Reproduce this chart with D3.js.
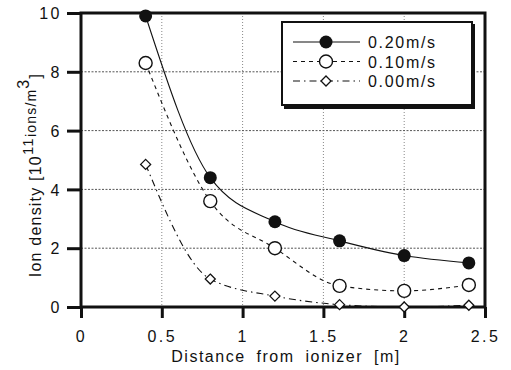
<!DOCTYPE html>
<html>
<head>
<meta charset="utf-8">
<script src="https://cdn.jsdelivr.net/npm/d3@7"></script>
<style>
  body { margin: 0; background: #fff; }
  text { font-family: "Liberation Sans", Arial, sans-serif; fill: #111; }
</style>
</head>
<body>
<div id="chart"></div>
<script>
// DATA
const distances = [0.4, 0.8, 1.2, 1.6, 2.0, 2.4];
const speed020 = [9.9, 4.4, 2.9, 2.25, 1.75, 1.5];
const speed010 = [8.3, 3.6, 2.0, 0.72, 0.55, 0.75];
const speed000 = [4.85, 0.95, 0.37, 0.08, 0.0, 0.06];
const seriesNames = ["0.20m/s", "0.10m/s", "0.00m/s"];
const xTicks = [0, 0.5, 1, 1.5, 2, 2.5];
const yTicks = [0, 2, 4, 6, 8, 10];

// DIMENSIONS
const WIDTH = 511, HEIGHT = 370;
const margin = {top: 13, right: 26, bottom: 63, left: 81};
const innerW = WIDTH - margin.left - margin.right;
const innerH = HEIGHT - margin.top - margin.bottom;

const svg = d3.select("#chart").append("svg")
  .attr("width", WIDTH)
  .attr("height", HEIGHT);

const g = svg.append("g").attr("transform", `translate(${margin.left},${margin.top})`);

const x = d3.scaleLinear().domain([0, 2.5]).range([0, innerW]);
const y = d3.scaleLinear().domain([0, 10]).range([innerH, 0]);

// grid (dotted)
g.append("g")
  .selectAll("line")
  .data(xTicks.filter(d => d > 0 && d < 2.5))
  .join("line")
  .attr("x1", d => x(d)).attr("x2", d => x(d))
  .attr("y1", 0).attr("y2", innerH)
  .attr("stroke", "#888").attr("stroke-width", 1)
  .attr("stroke-dasharray", "1,2");

g.append("g")
  .selectAll("line")
  .data(yTicks.filter(d => d > 0 && d < 10))
  .join("line")
  .attr("x1", 0).attr("x2", innerW)
  .attr("y1", d => y(d)).attr("y2", d => y(d))
  .attr("stroke", "#555").attr("stroke-width", 1)
  .attr("stroke-dasharray", "2,1.5");

// axes
const xAxis = g.append("g")
  .attr("transform", `translate(0,${innerH})`)
  .call(d3.axisBottom(x).tickValues(xTicks).tickSize(11).tickSizeOuter(0)
    .tickFormat(d => String(d)));
const yAxis = g.append("g")
  .call(d3.axisLeft(y).tickValues(yTicks).tickSize(14).tickSizeOuter(0));

[xAxis, yAxis].forEach(a => {
  a.attr("font-size", 16).attr("font-family", "'Liberation Sans', Arial, sans-serif");
  a.select(".domain").remove();
  a.selectAll(".tick line").attr("stroke", "#111").attr("stroke-width", 3);
  a.selectAll(".tick text")
    .attr("fill", "#111")
    .style("letter-spacing", "2.5px");
});
xAxis.selectAll(".tick text").attr("y", 24).attr("dy", "0.71em");
yAxis.selectAll(".tick text").attr("x", -19).attr("dy", "0.36em");

// frame
g.append("rect")
  .attr("x", 0).attr("y", 0)
  .attr("width", innerW).attr("height", innerH)
  .attr("fill", "none").attr("stroke", "#111").attr("stroke-width", 3);

// series
const series = [
  {name: seriesNames[0], values: speed020, dash: null, marker: "filled"},
  {name: seriesNames[1], values: speed010, dash: "4,4", marker: "open"},
  {name: seriesNames[2], values: speed000, dash: "7,4,1.5,4", marker: "diamond"}
];

const line = d3.line()
  .x(d => x(d[0]))
  .y(d => y(d[1]))
  .curve(d3.curveMonotoneX);

const drawMarker = (sel, type) => {
  if (type === "filled") {
    sel.append("circle").attr("r", 6.5).attr("fill", "#111");
  } else if (type === "open") {
    sel.append("circle").attr("r", 6.5).attr("fill", "#fff")
      .attr("stroke", "#111").attr("stroke-width", 1.4);
  } else {
    sel.append("path").attr("d", "M0,-5L5,0L0,5L-5,0Z").attr("fill", "#fff")
      .attr("stroke", "#111").attr("stroke-width", 1.3);
  }
};

series.slice().reverse().forEach(s => {
  const pts = distances.map((d, i) => [d, s.values[i]]);
  g.append("path")
    .attr("d", line(pts))
    .attr("fill", "none")
    .attr("stroke", "#111")
    .attr("stroke-width", 1.1)
    .attr("stroke-dasharray", s.dash);
  pts.forEach(p => {
    const m = g.append("g").attr("transform", `translate(${x(p[0])},${y(p[1])})`);
    drawMarker(m, s.marker);
  });
});

// legend
const legend = svg.append("g").attr("transform", "translate(282,22)");
legend.append("rect")
  .attr("x", 2).attr("y", 2).attr("width", 191).attr("height", 85)
  .attr("fill", "#111");
legend.append("rect")
  .attr("x", 0).attr("y", 0).attr("width", 190).attr("height", 83)
  .attr("fill", "#fff").attr("stroke", "#111").attr("stroke-width", 2);

series.forEach((s, i) => {
  const ly = 20 + i * 19.5;
  legend.append("line")
    .attr("x1", 11).attr("x2", 78)
    .attr("y1", ly).attr("y2", ly)
    .attr("stroke", "#111").attr("stroke-width", 1.1)
    .attr("stroke-dasharray", s.dash);
  const m = legend.append("g").attr("transform", `translate(44,${ly})`);
  drawMarker(m, s.marker);
  legend.append("text")
    .attr("x", 86).attr("y", ly + 6)
    .style("font-size", "16px")
    .style("letter-spacing", "1.7px")
    .text(s.name);
});

// axis titles
svg.append("text")
  .attr("x", margin.left + innerW / 2 + 3)
  .attr("y", 362)
  .attr("text-anchor", "middle")
  .style("font-size", "16px")
  .style("letter-spacing", "1.5px")
  .style("word-spacing", "5px")
  .text("Distance from ionizer [m]");

const yTitle = svg.append("text")
  .attr("transform", "translate(41,175) rotate(-90)")
  .attr("text-anchor", "middle")
  .style("font-size", "16px")
  .style("letter-spacing", "1.2px");
yTitle.append("tspan").text("Ion density [10");
yTitle.append("tspan").attr("dy", -8).style("font-size", "15px").text("11");
yTitle.append("tspan").attr("dy", 3).style("font-size", "14px").text("ions/m");
yTitle.append("tspan").attr("dy", -7).style("font-size", "16px").text("3");
yTitle.append("tspan").attr("dy", 12).text("]");
</script>
</body>
</html>
